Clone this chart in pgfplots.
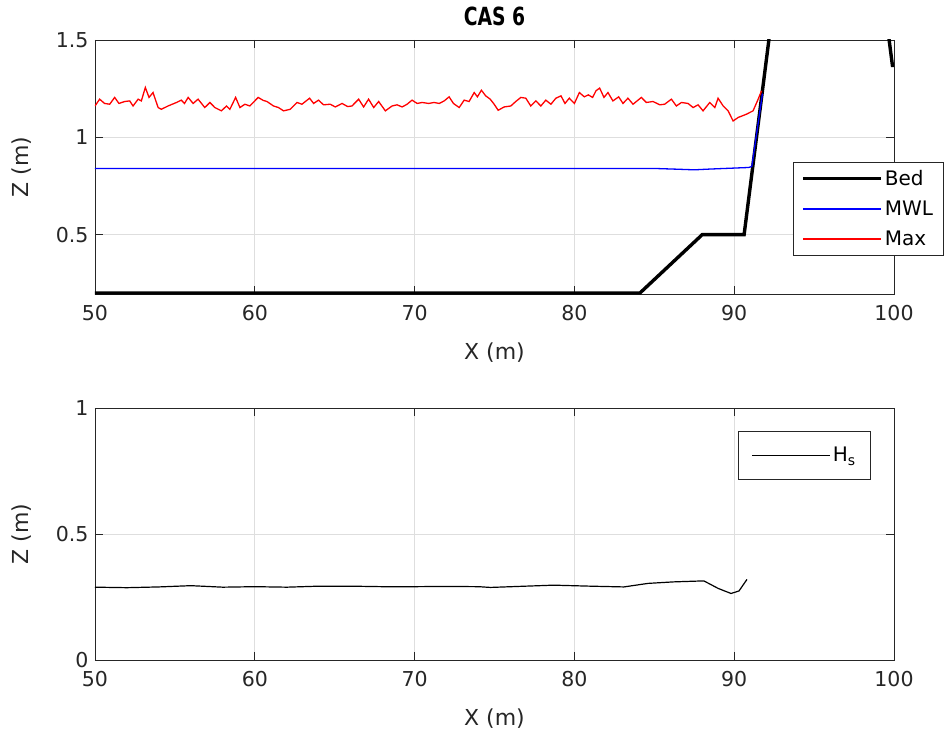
\documentclass[border=0pt]{standalone}
\usepackage{fontspec}
\setmainfont{DejaVu Sans}
\usepackage{pgfplots}
\pgfplotsset{compat=1.18}
\definecolor{axgray}{rgb}{0.15,0.15,0.15}
\definecolor{gridgray}{rgb}{0.87,0.87,0.87}

\pgfplotsset{
  casstyle/.style={
    scale only axis,
    width=799pt,
    xmin=50, xmax=100,
    xtick={50,60,...,100},
    grid=major,
    major grid style={gridgray, line width=0.7pt},
    axis line style={axgray, line width=0.9pt},
    tick style={axgray, line width=0.9pt},
    tick align=inside,
    major tick length=8pt,
    xtick pos=both, ytick pos=both,
    ticklabel style={font=\fontsize{20.5}{24}\selectfont, text=axgray},
    xticklabel style={yshift=-8pt},
    yticklabel style={xshift=-3pt},
    label style={font=\fontsize{22}{26}\selectfont, text=axgray},
    xlabel style={at={(axis description cs:0.5,0)}, anchor=center, yshift=-59pt},
    ylabel style={at={(axis description cs:-0.0914,0.5)}, anchor=center},
    /pgf/number format/assume math mode=true,
    xlabel={X (m)},
    ylabel={Z (m)},
    legend cell align=left,
    legend style={font=\fontsize{20}{24}\selectfont, draw=axgray, fill=white,
      line width=0.9pt, anchor=north west},
    legend image code/.code={\draw[#1] (0pt,0pt) -- (78pt,0pt);},
  }
}

\begin{document}
\begin{tikzpicture}
\begin{axis}[casstyle,
  height=254pt,
  ymin=0.195, ymax=1.5,
  ytick={0.5,1,1.5},
  title={\scalebox{0.75}[1]{\textbf{CAS 6}}},
  title style={at={(axis description cs:0.5,1)}, anchor=center, yshift=18pt,
    font=\fontsize{25}{28}\selectfont, text=black},
  legend style={at={(0.8736,0.52)}, row sep=10pt, inner xsep=8pt, inner ysep=6pt},
]
% Bed
\addplot[color=black, draw=black, line width=3.4pt, forget plot] coordinates {
 (50,0.2) (84.1,0.2) (88.0,0.5) (90.62,0.5) (92.17,1.5) (92.5,1.75)
 (99.3,1.75) (99.9,1.37) (100,1.37)
};
% MWL
\addplot[color=blue, draw=blue, line width=1.3pt, forget plot] coordinates {
 (50,0.84) (85,0.84) (86.5,0.836) (87.5,0.833) (88.5,0.837) (90.9,0.845)
 (91.1,0.85) (91.77,1.225)
};
% Max
\addplot[color=red, draw=red, line width=1.3pt, forget plot] coordinates {
 (50,1.161) (50.29,1.196) (50.6,1.174) (50.92,1.170) (51.23,1.205) (51.5,1.174)
 (51.86,1.184) (52.17,1.187) (52.38,1.161) (52.7,1.196) (52.9,1.187) (53.15,1.256)
 (53.38,1.205) (53.63,1.230) (53.95,1.153) (54.15,1.144) (54.57,1.161) (55.1,1.179)
 (55.4,1.191) (55.6,1.174) (55.83,1.205) (56.14,1.174) (56.45,1.196) (56.87,1.153)
 (57.19,1.179) (57.5,1.153) (57.91,1.136) (58.23,1.161) (58.44,1.144) (58.8,1.205)
 (59.07,1.153) (59.38,1.170) (59.69,1.161) (60.21,1.205) (60.52,1.190)
 (60.76,1.184) (61.17,1.161) (61.48,1.153) (61.8,1.136) (62.22,1.144) (62.64,1.179)
 (62.95,1.170) (63.43,1.201) (63.68,1.174) (63.99,1.191) (64.3,1.167) (64.72,1.170)
 (65.04,1.156) (65.46,1.174) (65.81,1.158) (66.08,1.161) (66.5,1.196) (66.81,1.156)
 (67.12,1.196) (67.44,1.153) (67.75,1.184) (68.17,1.136) (68.59,1.161) (68.9,1.167)
 (69.22,1.156) (69.53,1.170) (69.84,1.191) (70.16,1.174) (70.47,1.179) (70.88,1.174)
 (71.22,1.179) (71.54,1.174) (71.85,1.187) (72.16,1.208) (72.43,1.174) (72.79,1.153)
 (73.1,1.191) (73.41,1.184) (73.73,1.230) (73.93,1.208) (74.18,1.242) (74.45,1.213)
 (74.73,1.196) (74.98,1.170) (75.23,1.139) (75.6,1.156) (76.02,1.161) (76.33,1.184)
 (76.65,1.205) (76.96,1.201) (77.27,1.161) (77.59,1.187) (77.9,1.161) (78.21,1.191)
 (78.53,1.170) (78.84,1.201) (79.16,1.213) (79.41,1.174) (79.68,1.201) (80.0,1.174)
 (80.31,1.230) (80.62,1.208) (80.87,1.218) (81.14,1.205) (81.35,1.239) (81.58,1.253)
 (81.85,1.205) (82.1,1.230) (82.41,1.187) (82.77,1.208) (83.04,1.174) (83.35,1.201)
 (83.67,1.170) (84.19,1.205) (84.5,1.179) (84.92,1.184) (85.34,1.167) (85.65,1.170)
 (86.07,1.196) (86.38,1.161) (86.7,1.179) (87.11,1.174) (87.43,1.153) (87.74,1.167)
 (88.05,1.136) (88.47,1.179) (88.79,1.153) (88.99,1.201) (89.31,1.161) (89.62,1.136)
 (89.93,1.084) (90.25,1.102) (90.77,1.119) (91.18,1.136) (91.5,1.196) (91.71,1.239)
};
\addlegendimage{draw=black, line width=3.4pt}
\addlegendentry{Bed}
\addlegendimage{draw=blue, line width=1.8pt}
\addlegendentry{MWL}
\addlegendimage{draw=red, line width=1.8pt}
\addlegendentry{Max}
\end{axis}

\begin{axis}[casstyle,
  at={(0pt,-366pt)},
  height=252pt,
  ymin=0, ymax=1,
  ytick={0,0.5,1},
  legend style={at={(0.805,0.909)}, inner xsep=13pt, inner ysep=14pt},
]
\addplot[color=black, draw=black, line width=1.2pt] coordinates {
 (50,0.289) (52,0.287) (54,0.290) (56,0.295) (58,0.289) (60,0.291) (62,0.289)
 (64,0.293) (66,0.293) (68,0.291) (70,0.291) (72,0.292) (74,0.291) (74.75,0.288)
 (76.5,0.292) (78.7,0.297) (81,0.293) (83.1,0.290) (84.6,0.304) (86.2,0.310)
 (88.1,0.314) (89.0,0.284) (89.8,0.264) (90.3,0.274) (90.8,0.320)
};
\addlegendentry{H\textsubscript{s}}
\end{axis}
\pgfresetboundingbox
\path[use as bounding box] (-95pt,-440pt) rectangle (854pt,294pt);
\end{tikzpicture}
\end{document}
